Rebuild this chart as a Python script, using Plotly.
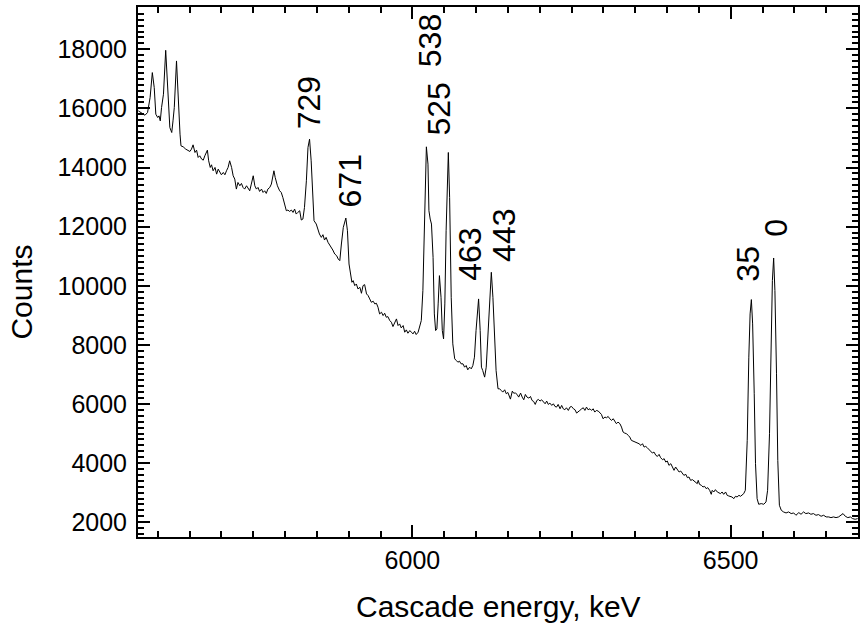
import plotly.graph_objects as go

# Spectrum (cascade energy in keV, counts)
energy_kev = [
    5569.5, 5580, 5584, 5588, 5591.5, 5594.5, 5597, 5600, 5602, 5604, 5606, 5609, 5612.5, 5615.5, 5619, 5621,
    5622, 5624, 5626, 5629.5, 5632, 5635, 5636.5, 5640, 5644, 5648, 5650.5, 5653, 5655.5, 5658.5, 5661, 5663.5,
    5666, 5669, 5671.5, 5674, 5676.5, 5678, 5680, 5682.5, 5684.5, 5687, 5690, 5692.5, 5695, 5697.5, 5700, 5703,
    5705.5, 5708, 5710.5, 5713, 5716, 5718.5, 5721, 5723.5, 5726, 5729, 5731.5, 5734, 5736.5, 5739.5, 5742, 5744.5,
    5747, 5750, 5752.5, 5755, 5757.5, 5760, 5763, 5765.5, 5768, 5770.5, 5773, 5776, 5778.5, 5781, 5782.5, 5784.5,
    5788, 5791.5, 5794, 5796.5, 5799.5, 5802, 5804.5, 5807, 5810, 5812.5, 5815, 5817.5, 5820, 5823, 5825.5, 5828,
    5830.5, 5833.5, 5836, 5838.5, 5841, 5844, 5845.5, 5849, 5851.5, 5854, 5857, 5859.5, 5862, 5864.5, 5867.5, 5870,
    5872.5, 5875, 5878, 5881,
    5883.5, 5886, 5888.5, 5891.5, 5895.5, 5898, 5900.5, 5903, 5905, 5907, 5909.5, 5912, 5914.5, 5917.5, 5920, 5922.5,
    5925, 5928, 5930.5, 5933, 5935.5, 5938.5, 5941, 5943.5, 5946, 5948.5, 5951.5, 5954, 5956.5, 5959, 5961.5, 5964.5,
    5967, 5969.5, 5972, 5975, 5977.5, 5980, 5982.5, 5985.5, 5988, 5990.5, 5993, 5996, 5998.5, 6001, 6003.5, 6006,
    6009, 6011.5, 6014, 6016.5, 6019.5, 6022, 6024.5, 6026, 6028, 6030, 6032.5, 6034.5, 6036.5, 6038.5, 6040.5, 6042.5,
    6045, 6047, 6049, 6051, 6053, 6056.5, 6058.5, 6061, 6063.5, 6066.5, 6069, 6071.5, 6074, 6076.5, 6079.5, 6082,
    6084.5, 6087, 6090, 6092.5, 6095, 6097.5, 6100, 6104, 6106.5, 6108.5, 6110.5, 6113.5, 6116, 6118.5, 6121, 6124,
    6126.5, 6129, 6131.5, 6134.5,
    6137, 6139.5, 6142, 6145, 6147.5, 6150, 6152.5, 6154, 6157, 6159, 6162, 6164.5, 6167, 6170, 6172.5, 6175,
    6177.5, 6180, 6183, 6185.5, 6188, 6190.5, 6193, 6195.5, 6198, 6200.5, 6203, 6206, 6208.5, 6211, 6213.5, 6216,
    6219, 6221.5, 6224, 6226.5, 6229, 6232, 6234.5, 6237, 6239.5, 6242, 6245, 6247.5, 6250, 6253, 6255.5, 6258,
    6260.5, 6263, 6266, 6268.5, 6271, 6273.5, 6276, 6279, 6281.5, 6284, 6286.5, 6289, 6292, 6294.5, 6297, 6299.5,
    6302.5, 6305, 6307.5, 6310, 6313, 6315.5, 6318, 6320.5, 6323, 6326, 6328.5, 6331, 6333.5, 6336.5, 6339, 6341.5,
    6344, 6346.5, 6349.5, 6352, 6354.5,
    6356, 6359, 6361.5, 6364, 6366.5, 6369, 6372, 6374.5, 6377, 6379.5, 6382.5, 6385, 6387.5, 6390, 6393, 6395.5,
    6398, 6400.5, 6403, 6406, 6408.5, 6411, 6413.5, 6416, 6419, 6421.5, 6424, 6426.5, 6429.5, 6432, 6434.5, 6437,
    6440, 6442.5, 6445, 6447.5, 6449, 6451, 6454, 6456.5, 6459, 6461.5, 6464, 6467, 6469.5, 6471, 6473.5, 6476,
    6479, 6481.5, 6484, 6486.5, 6489, 6492, 6494.5, 6497, 6499.5, 6502, 6505, 6507.5, 6510, 6513, 6515.5, 6518,
    6520.5,
    6523, 6526, 6528.5, 6530.5, 6532.5, 6534.5, 6537, 6539, 6541.5, 6544, 6548, 6552, 6555.5, 6558, 6561, 6563.5,
    6565.5, 6567.5, 6569.5, 6572, 6574, 6576.5, 6579.5, 6583, 6587, 6591, 6595, 6599, 6602.5, 6607, 6610.5, 6614.5,
    6618, 6622.5, 6626, 6630, 6634, 6638, 6642, 6646, 6650, 6654, 6657.5, 6661.5, 6665.5, 6669.5, 6673.5, 6676.5,
    6680, 6684, 6688, 6691.5, 6695.5, 6699.5,
]
counts = [
    15916, 15769, 15860, 16366, 17211, 16704, 15803, 15691, 15747, 15578, 16028, 16479, 17965, 16704, 15353, 15240,
    15184, 15578, 16028, 17605, 16254, 15128, 14733, 14700, 14621, 14587, 14542, 14621, 14767, 14508, 14587, 14340,
    14396, 14283, 14249, 14396, 14508, 14587, 14227, 14002, 14092, 13889, 14002, 13776, 13945, 13833, 13754, 13833,
    13754, 13889, 14002, 14227, 14002, 13720, 13608, 13270, 13495, 13382, 13461, 13326, 13270, 13382, 13270, 13213,
    13439, 13720, 13382, 13270, 13326, 13191, 13270, 13157, 13213, 13123, 13270, 13326, 13439, 13833, 13889, 13664,
    13382, 13213, 13157, 12988, 12707, 12538, 12560, 12515, 12560, 12481, 12594, 12425, 12481, 12538, 12223, 12256,
    12650, 13551, 14677, 14959, 14227, 12650, 12200, 12088, 11919, 11750, 11637, 11727, 11547, 11637, 11468, 11389,
    11299, 11209, 11074, 11018,
    10905, 10849, 11412, 11975, 12290, 11862, 10736, 10286, 10117, 10173, 10004, 10060, 9892, 9948, 9745, 10004,
    10038, 9723, 9666, 9554, 9441, 9475, 9385, 9407, 9272, 9047, 9103, 8991, 9069, 8934, 8957, 8822,
    8766, 8619, 8766, 8878, 8653, 8709, 8574, 8653, 8428, 8507, 8394, 8484, 8428, 8371, 8461, 8349,
    8428, 8597, 8822, 9835, 12988, 14700, 14114, 12538, 12256, 12087, 10961, 9047, 8484, 8540, 9385, 10342,
    9610, 8484, 8203, 9385, 11862, 14508, 12988, 9610, 8034, 7527, 7471, 7414, 7448, 7358, 7358, 7245,
    7302, 7155, 7245, 7189, 7302, 7583, 8484, 9554, 8484, 7245, 7133, 6908, 7245, 8259, 9610, 10455,
    9610, 8259, 7133, 6514,
    6514, 6458, 6402, 6480, 6345, 6390, 6233, 6165, 6435, 6368, 6368, 6323, 6233, 6368, 6233, 6143,
    6323, 6233, 6199, 6255, 6120, 6086, 5985, 6120, 6154, 6098, 6143, 6064, 6007, 6098, 5985, 6030,
    5951, 6007, 5917, 5895, 5985, 5838, 5951, 5838, 5805, 5872, 5782, 5895, 5917, 5838, 5805, 5692,
    5726, 5782, 5838, 5872, 5782, 5895, 5805, 5838, 5782, 5838, 5726, 5782, 5760, 5692, 5647, 5501,
    5557, 5534, 5579, 5501, 5444, 5501, 5388, 5332, 5388, 5332, 5219, 5050, 5016, 4994, 4938, 4881,
    4769, 4746, 4712, 4679, 4679,
    4656, 4599, 4656, 4543, 4566, 4520, 4453, 4408, 4340, 4374, 4262, 4228, 4295, 4183, 4115, 4149,
    4036, 4070, 3924, 3980, 3845, 3755, 3867, 3777, 3699, 3732, 3642, 3586, 3620, 3507, 3530, 3417,
    3440, 3394, 3361, 3304, 3417, 3282, 3248, 3192, 3214, 3136, 3169, 3079, 2944, 3079, 3023, 3102,
    3023, 2989, 2967, 3023, 2944, 3023, 2910, 2888, 2877, 2854, 2798, 2877, 2854, 2910, 2877, 2910,
    2967,
    3080, 4769, 7584, 9048, 9532, 8710, 6345, 3980, 2798, 2607, 2630, 2607, 2686, 3080, 4994, 8034,
    10174, 10939, 9836, 7021, 4093, 2573, 2404, 2348, 2314, 2348, 2292, 2314, 2235, 2325, 2269, 2348,
    2292, 2314, 2269, 2292, 2235, 2258, 2202, 2235, 2179, 2179, 2156, 2179, 2156, 2179, 2235, 2292,
    2202, 2156, 2179, 2122, 2100, 2122,
]

# Peak labels (final level energy, keV) and where they sit
peak_labels = ["729", "671", "538", "525", "463", "443", "35", "0"]
label_energy = [5839, 5901.5, 6028, 6042, 6091.5, 6145, 6528, 6572]
label_counts = [16203, 13551, 18280, 15966, 11068, 11710, 10730, 11947]

x_range = [5569, 6700]
y_range = [1500, 19430]
x_title = "Cascade energy, keV"
y_title = "Counts"

FONT = "Liberation Sans, Arial, Helvetica, sans-serif"

fig = go.Figure()
fig.add_trace(go.Scatter(x=energy_kev, y=counts, mode="lines",
                         line=dict(color="black", width=1), showlegend=False,
                         hoverinfo="x+y"))

for txt, ex, cy in zip(peak_labels, label_energy, label_counts):
    fig.add_annotation(x=ex, y=cy, text=txt, textangle=-90, showarrow=False,
                       xanchor="center", yanchor="middle",
                       font=dict(family=FONT, size=32, color="black"))

fig.add_annotation(xref="paper", yref="paper", x=0.5, y=-0.1306, text=x_title,
                   showarrow=False, xanchor="center", yanchor="middle",
                   font=dict(family=FONT, size=30, color="black"))
fig.add_annotation(xref="paper", yref="paper", x=-0.1619, y=0.462, text=y_title,
                   textangle=-90, showarrow=False, xanchor="center", yanchor="middle",
                   font=dict(family=FONT, size=30, color="black"))

axis_common = dict(showline=True, linecolor="black", linewidth=2, mirror="ticks",
                   ticks="inside", ticklen=12, tickwidth=1.5, tickcolor="black",
                   showgrid=False, zeroline=False, tickformat="d",
                   tickfont=dict(family=FONT, size=25, color="black"))

fig.update_xaxes(range=x_range, tickmode="linear", tick0=6000, dtick=500,
                 minor=dict(tick0=6000, dtick=50, ticks="inside", ticklen=6, tickwidth=1.5,
                            tickcolor="black", showgrid=False),
                 **axis_common)
fig.update_yaxes(range=y_range, tickmode="linear", tick0=2000, dtick=2000,
                 minor=dict(tick0=2000, dtick=200, ticks="inside", ticklen=6, tickwidth=1.5,
                            tickcolor="black", showgrid=False),
                 ticklabelstandoff=4,
                 **axis_common)

fig.update_layout(width=865, height=628, margin=dict(l=138, r=5, t=6, b=91),
                  paper_bgcolor="white", plot_bgcolor="white",
                  font=dict(family=FONT, color="black"))

fig.write_html("out.html", config={"displayModeBar": False},
               post_script="document.body.style.margin='0';document.body.style.padding='0';")
